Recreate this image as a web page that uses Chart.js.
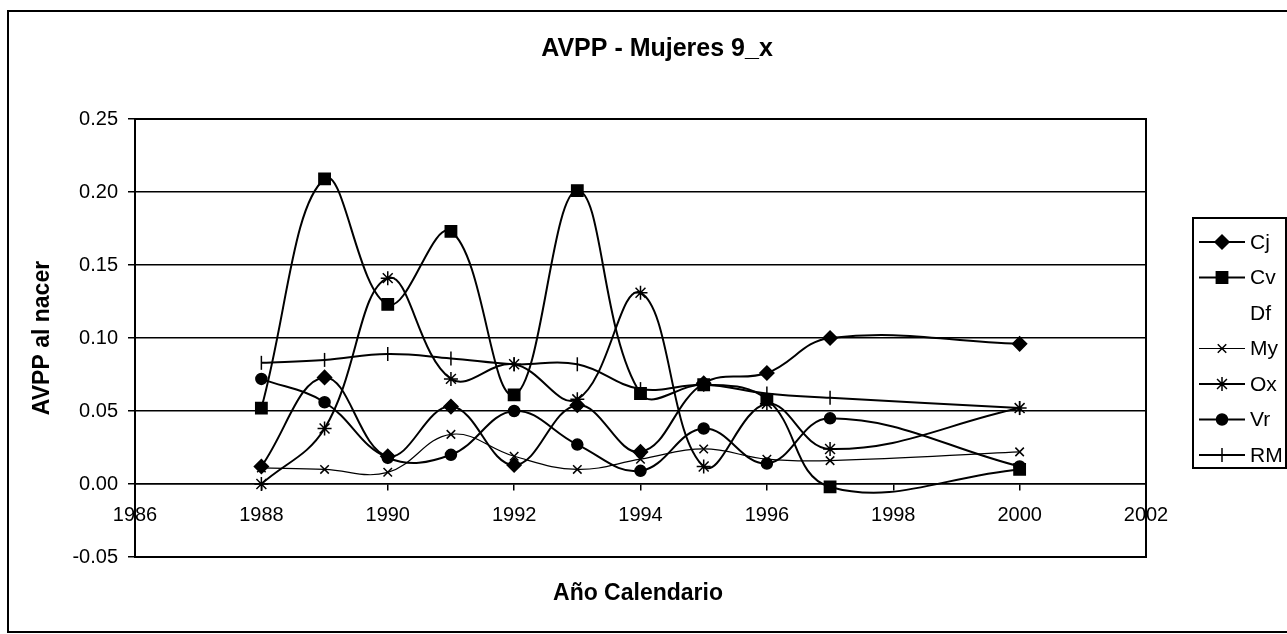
<!DOCTYPE html>
<html>
<head>
<meta charset="utf-8">
<script src="https://cdn.jsdelivr.net/npm/chart.js@4.4.1/dist/chart.umd.min.js"></script>
<style>
  html, body { margin: 0; padding: 0; background: #fff; }
  #wrap { width: 1287px; height: 634px; position: relative; }
</style>
</head>
<body>
<div id="wrap"><canvas id="avpp"></canvas></div>
<script>
// values
const years = [1988, 1989, 1990, 1991, 1992, 1993, 1994, 1995, 1996, 1997, 2000];
const cj = [0.012, 0.073, 0.019, 0.053, 0.013, 0.054, 0.022, 0.069, 0.076, 0.100, 0.096];
const cv = [0.052, 0.209, 0.123, 0.173, 0.061, 0.201, 0.062, 0.068, 0.058, -0.002, 0.010];
const df = [];
const my = [0.011, 0.010, 0.008, 0.034, 0.019, 0.010, 0.017, 0.024, 0.017, 0.016, 0.022];
const ox = [0.000, 0.038, 0.141, 0.072, 0.082, 0.058, 0.131, 0.012, 0.055, 0.024, 0.052];
const vr = [0.072, 0.056, 0.018, 0.020, 0.050, 0.027, 0.009, 0.038, 0.014, 0.045, 0.012];
const rm = [0.083, 0.085, 0.089, 0.086, 0.082, 0.082, 0.065, 0.068, 0.062, 0.059, 0.052];
const yTicks = [-0.05, 0.00, 0.05, 0.10, 0.15, 0.20, 0.25];
const xTicks = [1986, 1988, 1990, 1992, 1994, 1996, 1998, 2000, 2002];

const FONT = "'Liberation Sans', Arial, sans-serif";

function pts(vals) {
    return vals.map((v, i) => ({x: years[i], y: v}));
}

function series(label, vals, style, radius, extra) {
    return Object.assign({
        label: label,
        data: pts(vals),
        borderColor: '#000',
        backgroundColor: '#000',
        borderWidth: 2,
        pointStyle: style,
        pointRadius: radius,
        pointHoverRadius: radius,
        pointBorderColor: '#000',
        pointBackgroundColor: '#000',
        pointBorderWidth: 1.5,
        tension: 0.4,
        fill: false
    }, extra || {});
}

const datasets = [
    series('Cj', cj, 'rectRot', 7),
    series('Cv', cv, 'rect', 8),
    series('Df', df, 'circle', 0, {showLine: false}),
    series('My', my, 'crossRot', 6, {borderWidth: 1.2}),
    series('Ox', ox, 'star', 7),
    series('Vr', vr, 'circle', 5.5),
    series('RM', rm, 'line', 7, {pointRotation: 90})
];

// frame, titles and the boxed legend as in the Excel original
const decor = {
    id: 'decor',
    beforeDraw(chart) {
        const ctx = chart.ctx;
        ctx.save();
        ctx.fillStyle = '#fff';
        ctx.fillRect(0, 0, chart.width, chart.height);
        ctx.strokeStyle = '#000';
        ctx.lineWidth = 2;
        ctx.beginPath();
        ctx.moveTo(1287, 11); ctx.lineTo(8, 11); ctx.lineTo(8, 632); ctx.lineTo(1287, 632);
        ctx.stroke();
        ctx.restore();
    },
    afterDraw(chart) {
        const ctx = chart.ctx;
        const a = chart.chartArea;
        ctx.save();
        ctx.strokeStyle = '#000';
        ctx.lineWidth = 2;
        ctx.strokeRect(a.left, a.top, a.right - a.left, a.bottom - a.top);

        ctx.fillStyle = '#000';
        ctx.textAlign = 'center';
        ctx.textBaseline = 'middle';
        ctx.font = 'bold 25px ' + FONT;
        ctx.fillText('AVPP - Mujeres 9_x', 657, 49);
        ctx.font = 'bold 23px ' + FONT;
        ctx.fillText('Año Calendario', 638, 594);

        // legend
        ctx.strokeRect(1193, 218, 93, 250);
        ctx.font = '21px ' + FONT;
        ctx.textAlign = 'left';
        chart.data.datasets.forEach((ds, i) => {
            const y = 242 + i * 35.5;
            if (ds.data.length) {
                ctx.lineWidth = ds.borderWidth;
                ctx.beginPath();
                ctx.moveTo(1199, y);
                ctx.lineTo(1245, y);
                ctx.stroke();
                ctx.lineWidth = ds.pointBorderWidth;
                Chart.helpers.drawPoint(ctx, {
                    pointStyle: ds.pointStyle,
                    radius: ds.pointRadius,
                    rotation: ds.pointRotation || 0,
                    borderWidth: ds.pointBorderWidth
                }, 1222, y);
            }
            ctx.fillText(ds.label, 1250, y + 1);
        });
        ctx.restore();
    }
};

const config = {
    type: 'line',
    data: {datasets},
    options: {
        responsive: true,
        maintainAspectRatio: false,
        animation: false,
        devicePixelRatio: 1,
        layout: {
            padding: {left: 8, top: 119, right: 141, bottom: 77}
        },
        plugins: {
            legend: {display: false},
            title: {display: false},
            tooltip: {enabled: false}
        },
        scales: {
            x: {
                type: 'linear',
                position: {y: 0},
                min: xTicks[0],
                max: xTicks[xTicks.length - 1],
                afterBuildTicks: (scale) => {
                    scale.ticks = xTicks.map(v => ({value: v}));
                },
                ticks: {
                    color: '#000',
                    font: {family: FONT, size: 20},
                    padding: 13,
                    maxRotation: 0,
                    autoSkip: false,
                    callback: (v) => String(v)
                },
                grid: {
                    drawOnChartArea: false,
                    drawTicks: true,
                    tickLength: 6,
                    color: '#000',
                    lineWidth: 1.5
                },
                border: {display: true, color: '#000', width: 1.5}
            },
            y: {
                min: yTicks[0],
                max: yTicks[yTicks.length - 1],
                afterBuildTicks: (scale) => {
                    scale.ticks = yTicks.map(v => ({value: v}));
                },
                afterFit: (scale) => { scale.width = 127; },
                ticks: {
                    color: '#000',
                    font: {family: FONT, size: 20},
                    padding: 10,
                    callback: (v) => (Math.abs(v) < 1e-9 ? 0 : v).toFixed(2)
                },
                grid: {
                    color: '#000',
                    lineWidth: 1.5,
                    drawTicks: true,
                    tickLength: 7
                },
                border: {display: true, color: '#000', width: 2},
                title: {
                    display: true,
                    text: 'AVPP al nacer',
                    color: '#000',
                    font: {family: FONT, size: 23, weight: 'bold'},
                    padding: {top: 21, bottom: 0}
                }
            }
        }
    },
    plugins: [decor]
};

const chart = new Chart(document.getElementById('avpp'), config);
</script>
</body>
</html>
